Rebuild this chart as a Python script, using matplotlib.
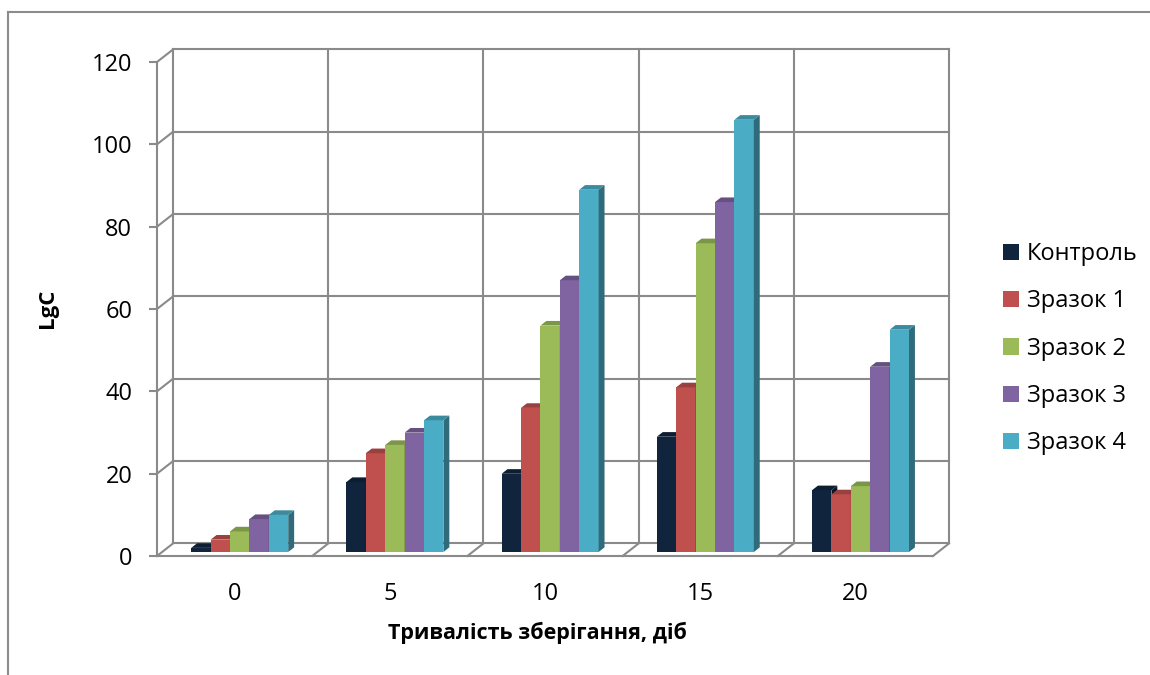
import matplotlib
matplotlib.use('Agg')
import matplotlib.pyplot as plt
from matplotlib.patches import Polygon, Patch
from matplotlib.lines import Line2D
import numpy as np

plt.rcParams['font.family'] = ['Open Sans', 'DejaVu Sans']

# storage time (days) and LgC for each sample
days = ['0', '5', '10', '15', '20']
series = ['Контроль', 'Зразок 1', 'Зразок 2', 'Зразок 3', 'Зразок 4']
kontrol = [1, 17, 19, 28, 15]
zrazok1 = [3, 24, 35, 40, 14]
zrazok2 = [5, 26, 55, 75, 16]
zrazok3 = [8, 29, 66, 85, 45]
zrazok4 = [9, 32, 88, 105, 54]
values = [kontrol, zrazok1, zrazok2, zrazok3, zrazok4]
colors = ['#10243E', '#C0504D', '#9BBB59', '#8064A2', '#4BACC6']
y_ticks = [0, 20, 40, 60, 80, 100, 120]

W, H = 1150, 675
fig = plt.figure(figsize=(W / 100, H / 100), dpi=100)
ax = fig.add_axes([157 / W, 1 - 556 / H, 776 / W, 494 / H])
ax.set_xlim(-0.5, 4.5)
ax.set_ylim(0, 120)

# oblique depth of the 3-D box, in data units
DX, DY = 0.103, 3.04
grid = '#8a8a8a'
lw = 1.5
line = dict(color=grid, lw=lw, clip_on=False, zorder=1, solid_capstyle='projecting')

# back wall gridlines + side wall slants
for v in y_ticks:
    ax.plot([-0.5 + DX, 4.5 + DX], [v + DY, v + DY], **line)
    ax.plot([-0.5, -0.5 + DX], [v, v + DY], **line)
for k in range(6):
    ax.plot([k - 0.5 + DX] * 2, [DY, 120 + DY], **line)
# floor
ax.plot([-0.5, 4.5], [0, 0], **line)
for k in range(1, 6):
    ax.plot([k - 0.5, k - 0.5 + DX], [0, DY], **line)


def shade(c, f):
    r, g, b = matplotlib.colors.to_rgb(c)
    return (r * f, g * f, b * f)


# 3-D columns: front face, right side, top
w = 0.125
f0, f1 = 0.32, 0.69
x = np.arange(len(days))
for s, (vals, col) in enumerate(zip(values, colors)):
    z = 3 + s * 0.1
    xl = x - 2.5 * w + s * w + f0 * DX
    ax.bar(xl, vals, w, bottom=f0 * DY, align='edge', color=col,
           lw=0, zorder=z, clip_on=False)
    for xi, v in zip(xl, vals):
        xr = xi + w
        y0, y1 = f0 * DY, v + f0 * DY
        ddx, ddy = (f1 - f0) * DX, (f1 - f0) * DY
        side = Polygon([(xr, y0), (xr + ddx, y0 + ddy), (xr + ddx, y1 + ddy), (xr, y1)],
                       closed=True, fc=shade(col, 0.62), lw=0, zorder=z, clip_on=False)
        top = Polygon([(xi, y1), (xr, y1), (xr + ddx, y1 + ddy), (xi + ddx, y1 + ddy)],
                      closed=True, fc=shade(col, 0.8), lw=0, zorder=z, clip_on=False)
        ax.add_patch(side)
        ax.add_patch(top)

for sp in ['top', 'right', 'bottom']:
    ax.spines[sp].set_visible(False)
ax.spines['left'].set_color(grid)
ax.spines['left'].set_linewidth(lw)
ax.set_yticks(y_ticks)
ax.tick_params(axis='y', direction='out', length=5.8, width=lw, color=grid,
               pad=12, labelsize=17)
ax.set_xticks(x, days)
ax.tick_params(axis='x', length=0, pad=19, labelsize=17)
ax.patch.set_visible(False)

fig.text(47 / W, 1 - 308 / H, 'LgC', rotation=90, fontsize=16, fontweight='bold',
         ha='center', va='center')
fig.text(537 / W, 1 - 633 / H, 'Тривалість зберігання, діб', fontsize=15.5,
         fontweight='bold', ha='center', va='center')

handles = [Patch(facecolor=c, edgecolor='none') for c in colors]
fig.legend(handles, series, loc='upper left', bbox_to_anchor=(1003 / W, 1 - 242 / H),
           frameon=False, fontsize=17, handlelength=0.68, handleheight=0.68,
           handletextpad=0.33, labelspacing=0.99, borderpad=0, borderaxespad=0)

# outer chart frame (top and left edges)
fig.add_artist(Line2D([8 / W, 1], [1 - 12 / H] * 2, color='#8c8c8c', lw=1.5))
fig.add_artist(Line2D([8 / W] * 2, [0, 1 - 12 / H], color='#8c8c8c', lw=1.5))

fig.savefig('out.png', dpi=100)
